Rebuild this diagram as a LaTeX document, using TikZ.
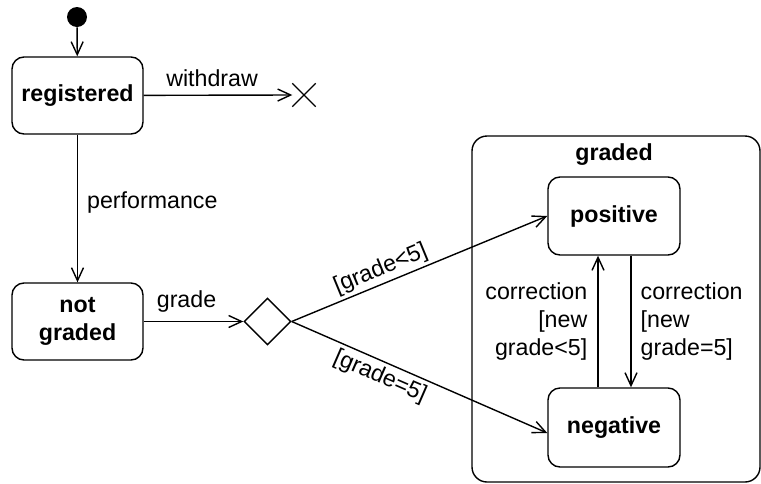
\documentclass[tikz,border=0pt]{standalone}
\usepackage{fontspec}
\setmainfont{Liberation Sans}
\usepackage{tikz}
\usetikzlibrary{shapes,shapes.geometric,shapes.misc,arrows.meta,positioning,calc}

\begin{document}
\begin{tikzpicture}[x=0.5pt,y=-0.5pt,
    every node/.style={font=\fontsize{11.6}{14.2}\selectfont},
    state/.style={draw,line width=0.7pt,rounded corners=6pt,minimum width=65.5pt,
        minimum height=38.5pt,inner sep=0pt,align=center,
        font=\fontsize{11.6}{14.2}\selectfont\bfseries},
    trans/.style={line width=0.7pt,-{Straight Barb[length=6.5pt,width=6pt]}},
    lbl/.style={inner sep=0pt}]
    \useasboundingbox (0,0) rectangle (761,483);

    % composite state
    \node[draw,line width=0.7pt,rounded corners=7.5pt,minimum width=144pt,
        minimum height=173pt] (graded) at (616,309) {};
    \node[font=\fontsize{11.6}{14.2}\selectfont\bfseries] (gradedlbl) at (614,155) {graded};

    % states
    \node[circle,fill=black,minimum size=10pt,inner sep=0pt] (init) at (77,17) {};
    \node[state] (registered) at (77.5,95.5) {registered};
    \node[state] (notgraded) at (77.5,321.5) {not\\graded};
    \node[state,minimum width=66pt,minimum height=39pt] (positive) at (614,216) {positive};
    \node[state,minimum width=66pt,minimum height=39.5pt] (negative) at (614,427.5) {negative};
    \node[draw,diamond,line width=0.7pt,minimum size=23.5pt,inner sep=0pt] (choice) at (267.5,321.5) {};
    \node[draw,cross out,line width=0.7pt,minimum size=11pt,inner sep=0pt] (term) at (304,95) {};

    % transitions
    \draw[trans] (init) -- (registered);
    \draw[trans] (registered) -- node[lbl,above=4pt,pos=0.46] {withdraw} (term.west);
    \draw[trans] (registered) -- node[lbl,right=4.5pt,pos=0.46] {performance} (notgraded);
    \draw[trans] (notgraded) -- node[lbl,above=4pt,pos=0.43] {grade} (choice);
    \draw[trans] (choice.east) -- node[lbl,above=1.5pt,sloped,pos=0.37] {[grade<5]} (positive.west);
    \draw[trans] (choice.east) -- node[lbl,below=2pt,sloped,pos=0.37] {[grade=5]}
        ([yshift=-2.75pt]negative.west);
    \draw[trans] ([xshift=-8pt]negative.north) -- node[lbl,left=5pt,align=right]
        {correction\\{}[new\\grade<5]} ([xshift=-8pt]positive.south);
    \draw[trans] ([xshift=8.5pt]positive.south) -- node[lbl,right=4.5pt,align=left]
        {correction\\{}[new\\grade=5]} ([xshift=8.5pt]negative.north);
\end{tikzpicture}
\end{document}
